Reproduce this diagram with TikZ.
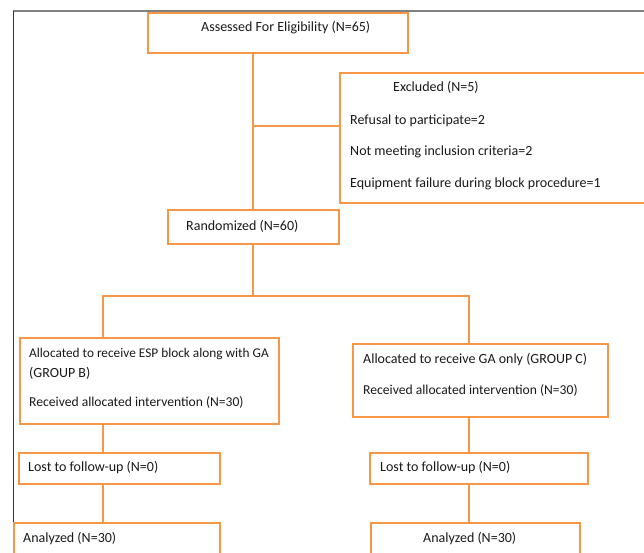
\documentclass[tikz,border=0pt]{standalone}
\usepackage{fontspec}
\setmainfont{Carlito}
\definecolor{org}{HTML}{F79646}
\begin{document}
\begin{tikzpicture}[x=1pt,y=-1pt,
  box/.style={draw=org, line width=1.5pt, rectangle, inner sep=0pt, anchor=north west},
  txt/.style={anchor=west, inner sep=0pt, font=\fontsize{14}{16}\selectfont, text=black!90},
  link/.style={draw=org, line width=1.5pt}]
\useasboundingbox (0,0) rectangle (644,552);
\clip (0,0) rectangle (644,552);
% frame
\draw[gray, line width=1.2pt] (13,11) -- (644,11);
\draw[black!80, line width=0.8pt] (13,11) -- (13,552);
% boxes
\node[box, minimum width=260pt, minimum height=40pt] (assess) at (147,12) {};
\node[box, minimum width=320pt, minimum height=130pt] (excl) at (339,72) {};
\node[box, minimum width=171pt, minimum height=34pt] (rand) at (167,209) {};
\node[box, minimum width=259pt, minimum height=86pt] (grpB) at (19,337) {};
\node[box, minimum width=255pt, minimum height=73pt] (grpC) at (352,343) {};
\node[box, minimum width=201pt, minimum height=31pt] (lostB) at (18,452) {};
\node[box, minimum width=218pt, minimum height=31pt] (lostC) at (369,452) {};
\node[box, minimum width=206pt, minimum height=50pt] (anaB) at (13,522) {};
\node[box, minimum width=209pt, minimum height=50pt] (anaC) at (370,522) {};
% texts
\node[txt] (t1) at (201,28) {Assessed For Eligibility (N=65)};
\node[txt] (t2) at (393,87) {Excluded (N=5)};
\node[txt] (t3) at (350,121) {Refusal to participate=2};
\node[txt] (t4) at (350,152) {Not meeting inclusion criteria=2};
\node[txt] (t5) at (350,184) {Equipment failure during block procedure=1};
\node[txt] (t6) at (186,226) {Randomized (N=60)};
\node[txt, font=\fontsize{13.3}{16}\selectfont] (t7) at (29,354) {Allocated to receive ESP block along with GA};
\node[txt] (t8) at (29,373) {(GROUP B)};
\node[txt, font=\fontsize{13.6}{16}\selectfont] (t9) at (29,402) {Received allocated intervention (N=30)};
\node[txt] (t10) at (363,359) {Allocated to receive GA only (GROUP C)};
\node[txt, font=\fontsize{13.6}{16}\selectfont] (t11) at (363,390) {Received allocated intervention (N=30)};
\node[txt] (t12) at (28,467) {Lost to follow-up (N=0)};
\node[txt] (t13) at (380,467) {Lost to follow-up (N=0)};
\node[txt] (t14) at (23,538) {Analyzed (N=30)};
\node[txt] (t15) at (423,538) {Analyzed (N=30)};
% connectors
\coordinate (j1) at (253,126);
\coordinate (s) at (253,296);
\coordinate (bL) at (103,296);
\coordinate (bR) at (469,296);
\draw[link] (assess.south -| j1) -- (rand.north -| j1);
\draw[link] (j1) -- (excl.west |- j1);
\draw[link] (rand.south -| s) -- (s);
\draw[link] (grpB.north -| bL) -- (bL) -- (bR) -- (grpC.north -| bR);
\draw[link] (grpB.south -| bL) -- (lostB.north -| bL);
\draw[link] (lostB.south -| bL) -- (anaB.north -| bL);
\draw[link] (grpC.south -| bR) -- (lostC.north -| bR);
\draw[link] (lostC.south -| bR) -- (anaC.north -| bR);
\end{tikzpicture}
\end{document}
